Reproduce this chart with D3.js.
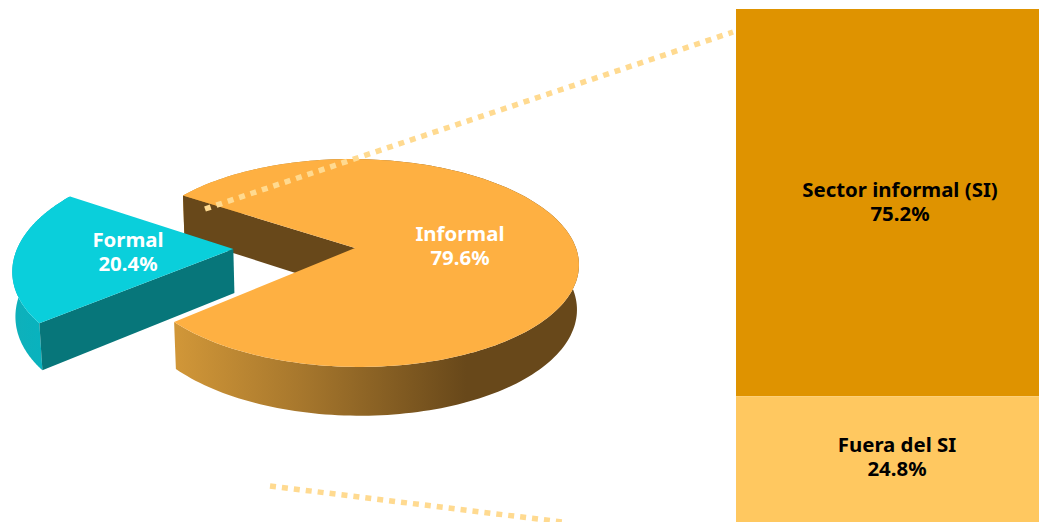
<!DOCTYPE html>
<html><head><meta charset="utf-8">
<script src="https://cdnjs.cloudflare.com/ajax/libs/d3/7.8.5/d3.min.js"></script>
<style>html,body{margin:0;padding:0;background:#fff}svg{display:block}
text{font-family:"Noto Sans",sans-serif;font-weight:700;text-anchor:middle}</style>
</head><body><script>
const pieCategories = ["Informal","Formal"];
const pieValues = [79.6,20.4];
const pieLabels = ["79.6%","20.4%"];
const stackCategories = ["Sector informal (SI)","Fuera del SI"];
const stackValues = [75.2,24.8];
const stackLabels = ["75.2%","24.8%"];
const W=1039,H=522;
const svg=d3.select("body").append("svg").attr("width",W).attr("height",H);
const defs=svg.append("defs");
const g1=defs.append("linearGradient").attr("id","wallO").attr("gradientUnits","userSpaceOnUse")
  .attr("x1",178).attr("x2",578).attr("y1",0).attr("y2",0);
[[0,"#d09638"],[0.3,"#a8782d"],[0.72,"#68481a"],[1,"#68481a"]].forEach(s=>g1.append("stop").attr("offset",s[0]).attr("stop-color",s[1]));
const g2=defs.append("linearGradient").attr("id","wallT").attr("gradientUnits","userSpaceOnUse")
  .attr("x1",11).attr("x2",48).attr("y1",0).attr("y2",0);
[[0,"#0fb0ba"],[1,"#07b3bf"]].forEach(s=>g2.append("stop").attr("offset",s[0]).attr("stop-color",s[1]));

// perspective view of the pie's disc
const k=-0.144, shear=0.04;
const gapMid=Math.PI-3.65*Math.PI/180;
const topFace={x0:355,y0:248,r:221,s:101.8}, botFace={x0:355,y0:292,r:219,s:105.9};
const explode={Formal:[-0.55,0.01],Informal:[0,0]};
const bulge={Formal:0.023,Informal:0};
const project=(f,u,v)=>{const w=1+k*v;const dy=f.s*v/w;return [f.x0+f.r*u/w+shear*dy,f.y0+dy];};
// angle from the gap's middle → disc point, with a small view distortion
const rimPt=(f,t,i)=>{
  const name=pieCategories[i],off=explode[name];
  const dir=gapMid+t+0.014*Math.sin(2*t);
  const r=1-bulge[name]*Math.cos(t*2.45);
  return project(f,off[0]+r*Math.cos(dir),off[1]+r*Math.sin(dir));
};
const arcs=d3.pie().sort(null).value(d=>d)(pieValues);
const hw=(arcs[1].endAngle-arcs[1].startAngle)/2;
const seg=(s,e,n=200)=>d3.range(n+1).map(i=>s+(e-s)*i/n);
const line=d3.line();
const span=i=>i===1?[-hw,hw]:[hw,2*Math.PI-hw];
const rim=(f,i)=>{const [s,e]=span(i);return seg(s,e).map(t=>rimPt(f,t,i));};
const centre=(f,i)=>{const o=explode[pieCategories[i]];return project(f,o[0],o[1]);};

// Informal
const infTop=rim(topFace,0),infBot=rim(botFace,0);
svg.append("path").attr("d",line(infTop.concat(infBot.slice().reverse()))+"Z").attr("fill","url(#wallO)");
const infBackIdx=infTop[0][1]<infTop[infTop.length-1][1]?0:infTop.length-1;
svg.append("path").attr("d",line([infTop[infBackIdx],centre(topFace,0),centre(botFace,0),infBot[infBackIdx]])+"Z").attr("fill","#68481a");
svg.append("path").attr("d",line([centre(topFace,0)].concat(infTop))+"Z").attr("fill","#feb042");

// Formal
const forTop=rim(topFace,1),forBot=rim(botFace,1);
const forFrontIdx=forTop[0][1]>forTop[forTop.length-1][1]?0:forTop.length-1;
svg.append("path").attr("d",line(forTop.concat(forBot.slice().reverse()))+"Z").attr("fill","url(#wallT)");
svg.append("path").attr("d",line([forTop[forFrontIdx],centre(topFace,1),centre(botFace,1),forBot[forFrontIdx]])+"Z").attr("fill","#07767a");
svg.append("path").attr("d",line([centre(topFace,1)].concat(forTop))+"Z").attr("fill","#0acfdb");

// stacked column
const y=d3.scaleLinear().domain([0,d3.sum(stackValues)]).range([9,524]);
const stackColors=d3.scaleOrdinal().domain(stackCategories).range(["#df9300","#ffc860"]);
let acc=0;
stackValues.forEach((v,i)=>{
  svg.append("rect").attr("x",736).attr("width",W-736).attr("y",y(acc)).attr("height",y(acc+v)-y(acc)).attr("fill",stackColors(stackCategories[i]));
  acc+=v;
});

// connector lines
const conn=[[[205,209],[733,32]],[[270,486],[562,522]]];
conn.forEach(c=>svg.append("path").attr("d",line(c)).attr("stroke","#ffda90").attr("stroke-width",5.5).attr("stroke-dasharray","6 6").attr("fill","none"));

// labels
const addLabel=(x,y1,a,b,col)=>{
  const t=svg.append("text").attr("y",y1).attr("fill",col).attr("font-size",20.4);
  t.append("tspan").attr("x",x).text(a);
  t.append("tspan").attr("x",x).attr("dy",24).text(b);
};
addLabel(460,241,pieCategories[0],pieLabels[0],"#fff");
addLabel(128,247,pieCategories[1],pieLabels[1],"#fff");
addLabel(900,197,stackCategories[0],stackLabels[0],"#000");
addLabel(897,452,stackCategories[1],stackLabels[1],"#000");
</script></body></html>
